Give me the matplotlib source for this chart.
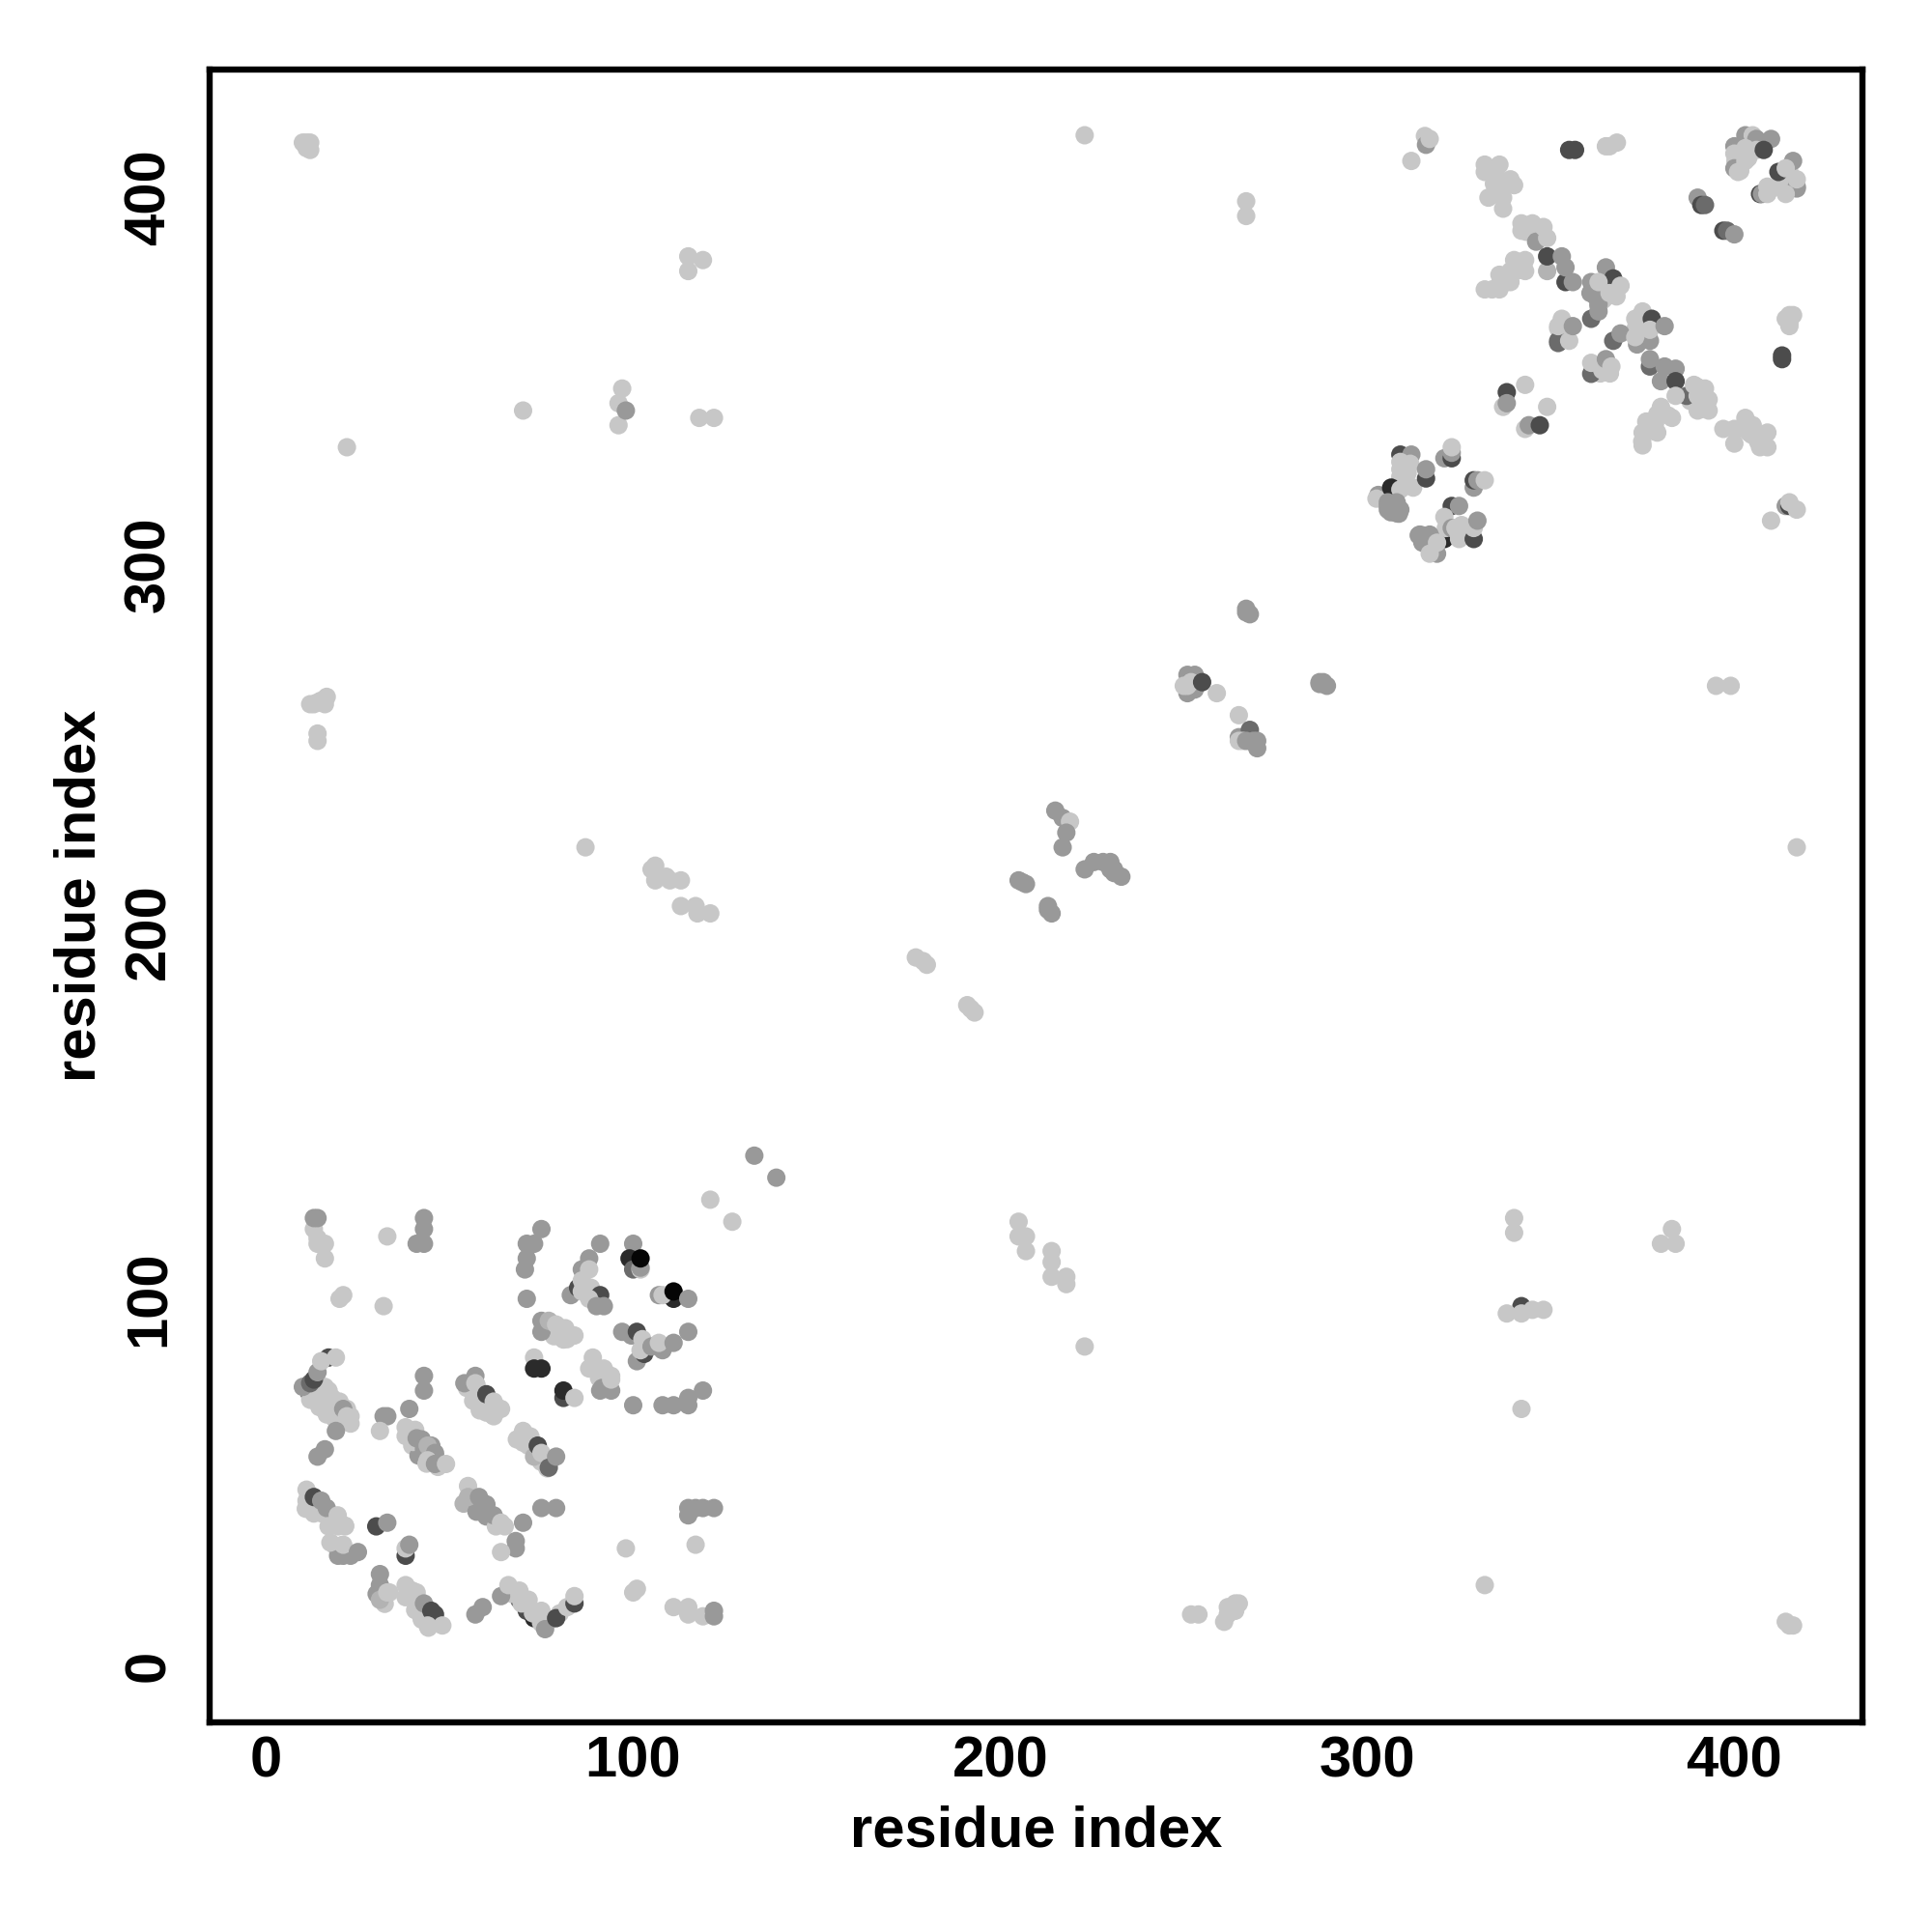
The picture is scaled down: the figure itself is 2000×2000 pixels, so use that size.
import matplotlib
matplotlib.use('Agg')
import matplotlib.pyplot as plt

# contact score levels, drawn through a gray colormap
L, l, M, D, K, B, X = 0.78, 0.70, 0.60, 0.42, 0.30, 0.17, 0.02

# (residue i, residue j, score), in drawing order
hidden_dark = [
    (11.7,74.4,K),(13.9,72.2,K),(16,70.3,K),(69,18,K),(71,15,K),(73,13,B),
]
band_fill = [
    (12,72.5,L),(13,74,L),(14,76,L),(15,75,L),(14.5,70.5,L),(16,73,L),(16,76,L),(16.5,68.5,L),(18,73,L),(18,70,L),(18.5,67.5,L),
    (20,72,L),(20,69,L),(21,67,L),(22,70,L),(23,68,L),
    (38,62.6,L),(40.6,64.3,L),(39.8,60,L),(42.4,61.7,M),(41.5,57.3,M),(43.7,55.1,L),(45,60,M),(46,57.3,M),(46.8,54.2,L),
    (54.7,75.7,L),(57.3,76.6,L),(56.4,72.2,L),(59,72.2,L),(58.2,69.6,L),(60.8,70,L),(61.7,68.3,L),
    (68.3,61.7,L),(70,60.8,L),(71.4,60,L),(73.1,58.2,L),(74.9,55.6,L),(76.6,53.8,L),
    (10.8,42.8,L),(13,41.5,L),(15.2,41.5,L),(17.4,39.8,L),(19.6,38,L),(21.5,38.2,L),
    (23,30,M),(20.5,32.8,L),(18.7,32.8,L),
    (53.8,44.2,l),(57.3,42,M),(60,40.7,M),(62.6,38,L),(63.5,38.5,L),
    (30.1,19.6,M),(32.3,16.9,L),(33.6,20,L),(38,18.7,L),(39.8,20.5,L),(40.6,15.2,L),(42.4,12.6,L),
    (67,19.6,L),(69.6,17,L),(72.7,14.3,L),(74.9,11.7,L),(76.6,12.2,L),(77.5,12.6,L),(80,14.3,L),
    (75.7,91.5,M),(78.4,89.8,L),(81,88.9,L),(88,81,L),(90.7,78.4,L),(91.5,75.7,M),
]
left_bottom_a = [
    (13,119,L),(14,116.5,L),(14,115,L),(16,115,L),(16,111,L),(13,122,M),(14,122,M),
    (33,117,L),(41,115,M),(43,122,M),(43,119,M),(43,115,M),(20,100,L),(21,101,L),(32,98,L),
    (121,127,L),(127,121,L),(133,139,M),(139,133,M),
]
left_bottom_b = [
    (75,119,M),(71,115,M),(73,115,M),(71,111,M),(70.5,108,M),(71,100,M),
    (91,115,M),(100,115,M),(99,111,B),(100,108,D),(102,108,L),(102,108.5,M),(102,111,X),
    (83,101,M),(85,103,K),(88,111,M),(86,108,M),(88,108,L),(86,105,L),(86,102,L),(88.5,103,L),
    (91,101,K),(88,100,L),(90,98,M),(92,98,M),
    (107,101,M),(111,100,B),(108,101,L),(111,102,X),(115,100,M),
    (75,91,M),(75,94,M),(77,94,l),(79,93,L),(81.5,92,L),(82,89,L),(84,90,L),
    (97,91,M),(99.5,90,M),(101,83,M),(103,85,K),(101,91,K),(102.5,89,L),(102,86,L),(105,87,M),
    (108,86,M),(107,88,L),(111,88,M),(115,91,M),
    (73,84,L),(73,81,B),(75,81,B),(81,73,K),(81,75,B),(84,73,L),
    (91,75,M),(94,75,M),(89,84,L),(90,81,L),(92,81,L),(94,79,L),(94,78,L),
    (100,71,M),(108,71,M),(111,71,M),(115,73,M),(115,71,M),(119,75,M),
]
left_bottom_c = [
    (10,76,M),(12,77,D),(13,78,K),(14,80,M),(17,84,K),(15,83,L),(19,84,L),
    (17,75,L),(17.5,73,L),(19,71,L),(21,70,M),(22,68,L),(23,66,L),
    (19,64,M),(16,59,M),(14,57,M),(33,68,M),(32,68,M),(39,70,M),(31,64,L),(43,79,M),(43,75,M),
    (38,65,L),(39,63,L),(40,61,L),(41,62,M),(43,59,M),(44,60,l),(46,58,M),(44,56,L),(46,55,M),(49,55,L),
    (54,77,M),(57,79,M),(57,77,L),(58,73,L),(60,74,K),(60,69,L),(62,72,L),(62,68,L),(64,70,L),
    (70,64,L),(69,62,L),(72,62.5,L),(73,57,l),(74,60,K),(75,58,L),(77,54,D),(79,57,M),
]
left_bottom_d = [
    (11,48,L),(11,45,L),(13,46,K),(15,45,M),(16.5,43,M),(17,38,L),(19.5,41,L),(21.5,38,L),
    (19.6,30,M),(21,30,M),(17.5,33.6,L),(21,33,L),(25,31,M),(30,38,K),(33,39,M),
    (38,30,K),(38,32,L),(39,33,M),
    (55,49,L),(55,46,l),(58,46,M),(60,44,M),(62,41,M),(64,39,L),(65,38,L),(70,39,M),
    (75,43,M),(79,43,M),(68,32,M),(68,34,M),(64,31,L),(98,32,L),(117,33,L),
    (115,41,M),(115,43,M),(117,43,M),(119,43,M),(122,43,M),
    (31,25,M),(31,22,M),(31,18,l),(33,20,L),(38,22,L),(41,20,L),(42,14,L),(43,17,M),
    (45,15,K),(46,14,K),(44,11,L),(44.2,10.4,L),(48,11,L),(59,16,M),(57,14,M),(64,19,M),
    (66,22,L),(69,20.5,L),(71.5,18,L),(75,15,L),(76,10,M),
    (79,13,K),(82,16,L),(84,17,K),(84,19,L),(100,20,L),(101,21,L),
    (111,16,L),(115,16,L),(115,14,L),(119,13.5,L),(122,15,M),(122,13.5,M),
]
top_right_fill = [
    (360.8,374,M),(363,370.5,M),(362.2,373.1,M),(364.3,372.2,L),(365.2,373.1,L),(367.9,373.1,L),
    (352,364.4,L),(353.8,362.6,L),(353.8,365.2,L),(352,360.4,D),
    (373.1,364.4,L),(374.9,362.6,L),(374.9,365.2,L),(377,365.2,L),
    (361.7,352.9,L),(363.5,352.1,L),(366.1,352.1,L),
    (389.8,348.5,L),(391.5,346,L),(388,344.6,L),
    (378.4,338.5,L),(381.9,340.7,L),(374.9,333.6,L),(378.4,336.3,L),
    (402,337.2,L),(404.7,335.4,L),(406.4,333.6,L),(403,338.5,L),
    (336.3,404.7,L),(336.3,402.1,L),(334.5,403.8,L),(345,390.7,L),(346.8,389.8,L),(343.3,390.7,L),
    (340.7,380.1,L),(338,378.4,L),(336.3,377,L),
    (400.3,410,L),(401.6,407.3,L),(403.8,410.8,L),
    (411.7,403,L),(413.5,403,L),(409,401.2,L),(415.2,406.5,L),
]
top_right_a = [
    (315.7,416.8,L),(316,414.4,M),(317,416,L),(312,410,L),(355,413,K),(356.6,413,K),
    (365,414,L),(366,414,L),(368,415,L),
    (332,409,L),(332,407,L),(336,409,L),(339,405,L),(340,403.4,L),(333,400,L),(337,400,L),(337,397,L),(335,405,L),
    (346,388,M),(342,393,L),(342,391,L),(345,393,L),(348,392,L),(349,389,L),
    (349,380,l),(349,384,K),(353,384,M),(354,377,K),(354,381,M),(356,377,M),
    (340,383,L),(343,383,L),(339,380,L),(343,380,L),(336,379,L),(339,377,L),(336,375,L),(332,375,L),(334,375,L),
    (361,367,D),(363,369,M),(362,374,M),(361,377,M),(363,371,M),(365,381,M),(367,378,K),(363,377,L),(366,374,L),(369,376,L),
    (352,361,D),(355,361,L),(352,365,L),(353,367,L),(356,365,M),
    (367,361,D),(369,363,M),(373.5,360,M),(377,361,M),(373,362,L),(375,369,L),(373,367,L),(377.5,367,K),(377,364,L),(381,365,M),
    (361,352,D),(361,355,L),(364,353,L),(365,356,M),(366.5,354,L),
]
top_right_b = [
    (377,354,D),(377,356,M),(381,354,M),(384,353.4,M),(380,350,M),(384,350,K),(387,346,D),
    (389,349,L),(392,348,L),(390,346,L),(393,345,L),(390,342,L),(393,342,L),(384,346,L),
    (380,343,L),(383,340,L),(376,339,L),(379,341,L),(379,336,L),(375,336,L),(375,332.5,L),
    (397,337,L),(400,337,L),(403,340,L),(405,338,L),(404,336,L),(400,333,L),(409,336,L),(407,332,L),(409,332,L),
    (415,368,L),(415,365,L),(414,367,L),(415,366,L),(416,368,L),(413,356,K),(413,357,K),
    (414,316,M),(415,316,K),(415,317,L),(417,315,L),(410,312,L),
    (338,347,K),(337,343,L),(338,344,M),(343,349,L),(349,343,L),(343,337,L),(344,338,M),(347,338,K),
    (403,417,M),(400,414,M),(405,417,L),(406,416,M),(410,416,M),(406,413,L),(408,413,K),(400,412,L),
    (400,408,M),(403,410,L),(401,407,L),(403,413.5,L),
    (416,410,M),(412,407,K),(414,408,L),(417,402.5,M),(417,403,M),(417,405,L),(414,401,L),
    (407,401,K),(407.5,401,M),(409,403,L),(409,401,L),
    (390,400,M),(391,398,K),(392,398,D),(397,391,K),(398,391,D),(400,390,M),
]
top_right_c = [
    (303,319,M),(302.5,318,L),(309,330,K),(312,330,M),(309,328,L),(310.4,325,L),(309,324,L),(311.7,327.5,L),
    (309,326,L),(309,323,L),(311,325,L),
    (306.5,321,B),(309,320.5,L),(312.5,321,L),(316,323.5,K),(316,326,M),
    (321,329,M),(323,329,K),(323,330.5,M),(323,332,L),(329,321,M),(329,323,K),(330,323,M),(332,323,L),
    (305.6,317,M),(305.6,315,M),(305.6,316,M),(308.2,316,M),(306.4,314.3,M),(308.6,313.9,M),(308,317,M),(309,315,M),(308,314,M),
    (323,316,K),(325,316,M),(321,313,L),(321,307,B),(321.4,310,L),(323,310,M),(326,310,L),(325,307,L),
    (324,310,L),(325.7,310.8,L),(327.5,309.1,L),(324.9,308.2,L),
    (329,307,K),(329,310,L),(330,312,M),(314,308,M),(315,308,M),(315,306,M),(314.3,308.2,M),(316.1,306.5,M),(317,308.2,M),
    (319,303,M),(317,303,L),(319,306,L),
]
diagonal = [
    (267,288,M),(268,286.5,M),(267,287,M),(251,270,M),(253,270,M),(251,265,M),(253,266,M),(250,267,L),(251,267,L),(252,268,L),(255,268,K),(259,265,L),
    (265,259,L),(265,253,M),(268,255,D),(265,252,L),(266,252,L),(267,252,M),(269,252,M),(270,252,M),(270,250,M),
    (287,268,M),(288,268,M),(287,267.5,M),(289,267,M),
    (177,193,L),(179,192,L),(180,191,L),(191,180,L),(192,179,L),(193,178,L),
    (215,233,M),(217,231,M),(219,230,L),(218,227,M),(217,223,M),(205,214,M),(206,213.5,M),(207,213,M),(213,207,M),(213,206,M),(214,205,M),
    (223,217,M),(225.5,219,M),(228,219,M),(230,219,M),(230,217,M),(231,217,M),(231,216,M),(233,215,M),
]
far_contacts = [
    (10,415,L),(11,415,L),(12,415,L),(11,414,L),(12,413,L),(11,413.5,L),(223,417,L),(417,223,L),(87,223,L),(267,399,L),(267,395,L),
    (115,384,L),(119,383,L),(115,380,L),(70,342,L),(97,348,L),(96,344,L),(96,338,L),(98,342,M),
    (118,340,L),(122,340,L),(22,332,L),(12,262,L),(13,262,L),(14,262.5,L),(15,263,L),(16,262,L),(16.5,264,L),(14,254,L),(14,252,L),
    (395,267,L),(399,267,L),
    (105,217,L),(106,218,L),(106,214,L),(109,215,L),(110,214,L),(113,214,L),(113,207,L),(117,207,L),(117.5,205,L),(121,205,L),
    (205,121,L),(205,117,L),(207,117,L),(207,113,L),(214,113,L),(214,110,L),(214,106,L),(218,106,L),(218,104,L),(223,87,L),
    (340,122,L),(340,118,L),(332,22,L),(383,119,L),(380,115,L),(384,115,L),
    (342,98,K),(338,96,L),(342,96,L),(345,97,L),(348,97,L),(342,70,L),
    (252,14,L),(254,14,L),(264,17,L),(265,17,L),(262,16,L),(263,15,L),(264,15,L),(262,14,L),(261,12,L),
    (414,12,L),(415,11,L),(416,11,L),
]

tick_values = [0, 100, 200, 300, 400]

contacts = (hidden_dark + band_fill + left_bottom_a + left_bottom_b + left_bottom_c + left_bottom_d
            + top_right_fill + top_right_a + top_right_b + top_right_c + diagonal + far_contacts)
xs = [c[0] for c in contacts]
ys = [c[1] for c in contacts]
scores = [c[2] for c in contacts]

plt.rcParams['font.family'] = ['Liberation Sans', 'DejaVu Sans']
plt.rcParams['font.weight'] = 'bold'

fig = plt.figure(figsize=(10, 10), dpi=200)
ax = fig.add_axes([0.1085, 0.1085, 0.8555, 0.8555])
ax.scatter(xs, ys, c=scores, cmap='gray', vmin=0, vmax=1, s=47, linewidths=0)

ax.set_xlim(-15.4, 434.9)
ax.set_ylim(-15.4, 434.9)
ax.set_xticks(tick_values)
ax.set_yticks(tick_values)
ax.tick_params(length=0, labelsize=21.5)
ax.tick_params(axis='x', pad=5)
ax.tick_params(axis='y', pad=12.5)
for lab in ax.get_yticklabels():
    lab.set_rotation(90)
    lab.set_va('center')
for side in ax.spines.values():
    side.set_linewidth(2.3)

ax.set_xlabel('residue index', fontsize=21.5, fontweight='bold', labelpad=6)
ax.set_ylabel('residue index', fontsize=21.5, fontweight='bold', labelpad=6)

fig.savefig('out.png', dpi=200)
